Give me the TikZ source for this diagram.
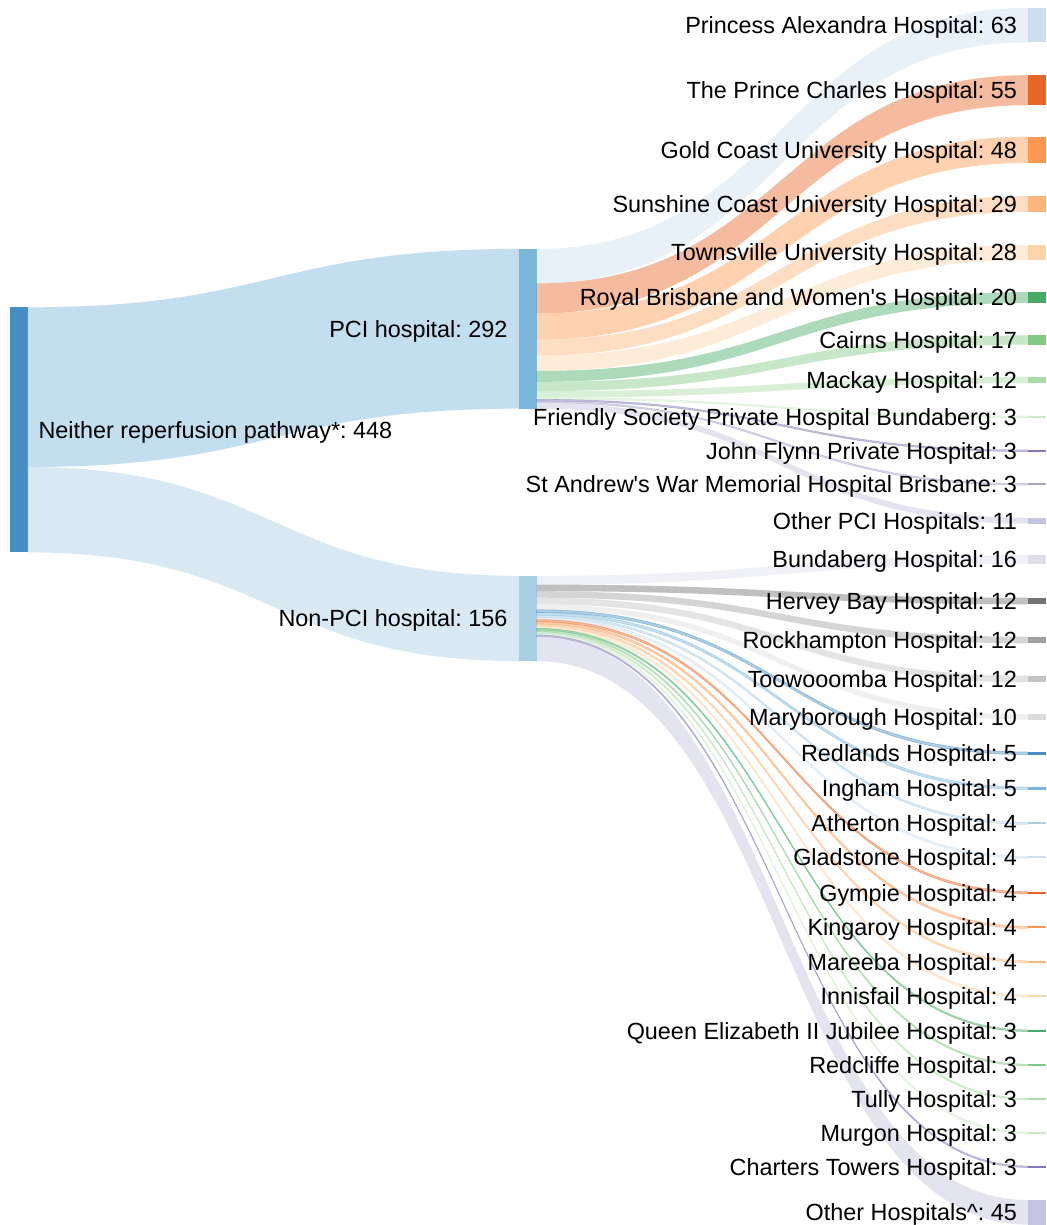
\documentclass[tikz,border=0pt]{standalone}
\usepackage{fontspec}
\setmainfont{Liberation Sans}
\usetikzlibrary{calc}
\frenchspacing
\definecolor{b1}{HTML}{3182BD}\definecolor{b2}{HTML}{6BAED6}\definecolor{b3}{HTML}{9ECAE1}\definecolor{b4}{HTML}{C6DBEF}
\definecolor{o1}{HTML}{E6550D}\definecolor{o2}{HTML}{FD8D3C}\definecolor{o3}{HTML}{FDAE6B}\definecolor{o4}{HTML}{FDD0A2}
\definecolor{g1}{HTML}{31A354}\definecolor{g2}{HTML}{74C476}\definecolor{g3}{HTML}{A1D99B}\definecolor{g4}{HTML}{C7E9C0}
\definecolor{p1}{HTML}{756BB1}\definecolor{p2}{HTML}{9E9AC8}\definecolor{p3}{HTML}{BCBDDC}\definecolor{p4}{HTML}{DADAEB}
\definecolor{k1}{HTML}{636363}\definecolor{k2}{HTML}{969696}\definecolor{k3}{HTML}{BDBDBD}\definecolor{k4}{HTML}{D9D9D9}
\def\flowscale{0.547}
\newcommand\sflow[5]{%
  \ifdim#4pt<6pt\tikzset{flowx/.style={draw=#5, draw opacity=0.4, line width=0.6pt}}\else\tikzset{flowx/.style={}}\fi
  \path[fill=#5, fill opacity=0.4, flowx] let \p1=(#1.north east), \p2=(#3.north west),
    \n1={#2*\flowscale}, \n2={#4*\flowscale}, \n3={0.5*(\x1+\x2)} in
    (\x1,\y1-\n1) .. controls (\n3,\y1-\n1) and (\n3,\y2) .. (\x2,\y2)
    -- (\x2,\y2-\n2) .. controls (\n3,\y2-\n2) and (\n3,\y1-\n1-\n2) .. (\x1,\y1-\n1-\n2) -- cycle;}
\tikzset{
  sbar/.style={draw=none, inner sep=0pt, outer sep=0pt, minimum width=17.7pt, rectangle},
  lab/.style={inner sep=0pt, outer sep=0pt, text=black, font=\fontsize{23.4}{28}\selectfont}
}
\begin{document}
\begin{tikzpicture}[x=1pt, y=-1pt]
\useasboundingbox (0,0) rectangle (1046,1225);
\fill[white] (0,0) rectangle (1046,1225);
\clip (0,0) rectangle (1046,1225);
% bars
\node[sbar, fill=b1!90, minimum height={448*\flowscale*1pt}] (neither) at (18.85,429.85) {};
\node[sbar, fill=b2!90, minimum height={292*\flowscale*1pt}] (pci) at (527.85,328.8) {};
\node[sbar, fill=b3!90, minimum height={156*\flowscale*1pt}] (nonpci) at (527.85,618.5) {};
\foreach \id/\yc/\v/\c in {pa/25/63/b4, pc/90.2/55/o1, gc/149.8/48/o2, sc/204/29/o3, tv/252.5/28/o4,
  rb/297.5/20/g1, ca/340/17/g2, mk/380/12/g3, fs/416.7/3/g4, jf/450.7/3/p1, sa/484.3/3/p2, op/520.7/11/p3,
  bu/559.3/16/p4, hb/601/12/k1, ro/640/12/k2, tw/679/12/k3, mb/717/10/k4, rl/753.3/5/b1, ing/788.3/5/b2,
  at/823.3/4/b3, gl/857.3/4/b4, gy/892.7/4/o1, ki/927.3/4/o2, ma/961.7/4/o3, inn/996/4/o4,
  qe/1030.7/3/g1, rc/1065/3/g2, tu/1099/3/g3, mu/1132.7/3/g4, ct/1166.7/3/p1, oh/1212.3/45/p3}
  {\node[sbar, fill=\c!90, minimum height={\v*\flowscale*1pt}] (\id) at (1036.85,\yc) {};}
% links
\sflow{neither}{0}{pci}{292}{b2}
\sflow{neither}{292}{nonpci}{156}{b3}
\foreach \id/\cum/\v/\c in {pa/0/63/b4, pc/63/55/o1, gc/118/48/o2, sc/166/29/o3, tv/195/28/o4,
  rb/223/20/g1, ca/243/17/g2, mk/260/12/g3, fs/272/3/g4, jf/275/3/p1, sa/278/3/p2, op/281/11/p3}
  {\sflow{pci}{\cum}{\id}{\v}{\c}}
\foreach \id/\cum/\v/\c in {bu/0/16/p4, hb/16/12/k1, ro/28/12/k2, tw/40/12/k3, mb/52/10/k4, rl/62/5/b1,
  ing/67/5/b2, at/72/4/b3, gl/76/4/b4, gy/80/4/o1, ki/84/4/o2, ma/88/4/o3, inn/92/4/o4,
  qe/96/3/g1, rc/99/3/g2, tu/102/3/g3, mu/105/3/g4, ct/108/3/p1, oh/111/45/p3}
  {\sflow{nonpci}{\cum}{\id}{\v}{\c}}
% labels
\node[lab, anchor=base west] (neither-l) at (38.5,438.2) {Neither reperfusion pathway*: 448};
\node[lab, anchor=base east] (pci-l) at (507.5,337.2) {PCI hospital: 292};
\node[lab, anchor=base east] (nonpci-l) at (507.5,626.9) {Non-PCI hospital: 156};
\foreach \id/\yc/\t in {pa/25/{Princess Alexandra Hospital: 63}, pc/90.2/{The Prince Charles Hospital: 55},
  gc/149.8/{Gold Coast University Hospital: 48}, sc/204/{Sunshine Coast University Hospital: 29},
  tv/252.5/{Townsville University Hospital: 28}, rb/297.5/{Royal Brisbane and Women\textquotesingle s Hospital: 20},
  ca/340/{Cairns Hospital: 17}, mk/380/{Mackay Hospital: 12},
  fs/416.7/{Friendly Society Private Hospital Bundaberg: 3}, jf/450.7/{John Flynn Private Hospital: 3},
  sa/484.3/{St Andrew\textquotesingle s War Memorial Hospital Brisbane: 3}, op/520.7/{Other PCI Hospitals: 11},
  bu/559.3/{Bundaberg Hospital: 16}, hb/601/{Hervey Bay Hospital: 12}, ro/640/{Rockhampton Hospital: 12},
  tw/679/{Toowooomba Hospital: 12}, mb/717/{Maryborough Hospital: 10}, rl/753.3/{Redlands Hospital: 5},
  ing/788.3/{Ingham Hospital: 5}, at/823.3/{Atherton Hospital: 4}, gl/857.3/{Gladstone Hospital: 4},
  gy/892.7/{Gympie Hospital: 4}, ki/927.3/{Kingaroy Hospital: 4}, ma/961.7/{Mareeba Hospital: 4},
  inn/996/{Innisfail Hospital: 4}, qe/1030.7/{Queen Elizabeth II Jubilee Hospital: 3},
  rc/1065/{Redcliffe Hospital: 3}, tu/1099/{Tully Hospital: 3}, mu/1132.7/{Murgon Hospital: 3},
  ct/1166.7/{Charters Towers Hospital: 3}, oh/1212.3/{Other Hospitals\textasciicircum: 45}}
  {\node[lab, anchor=base east] (\id-l) at (1017,\yc+8.4) {\t};}
\end{tikzpicture}
\end{document}
